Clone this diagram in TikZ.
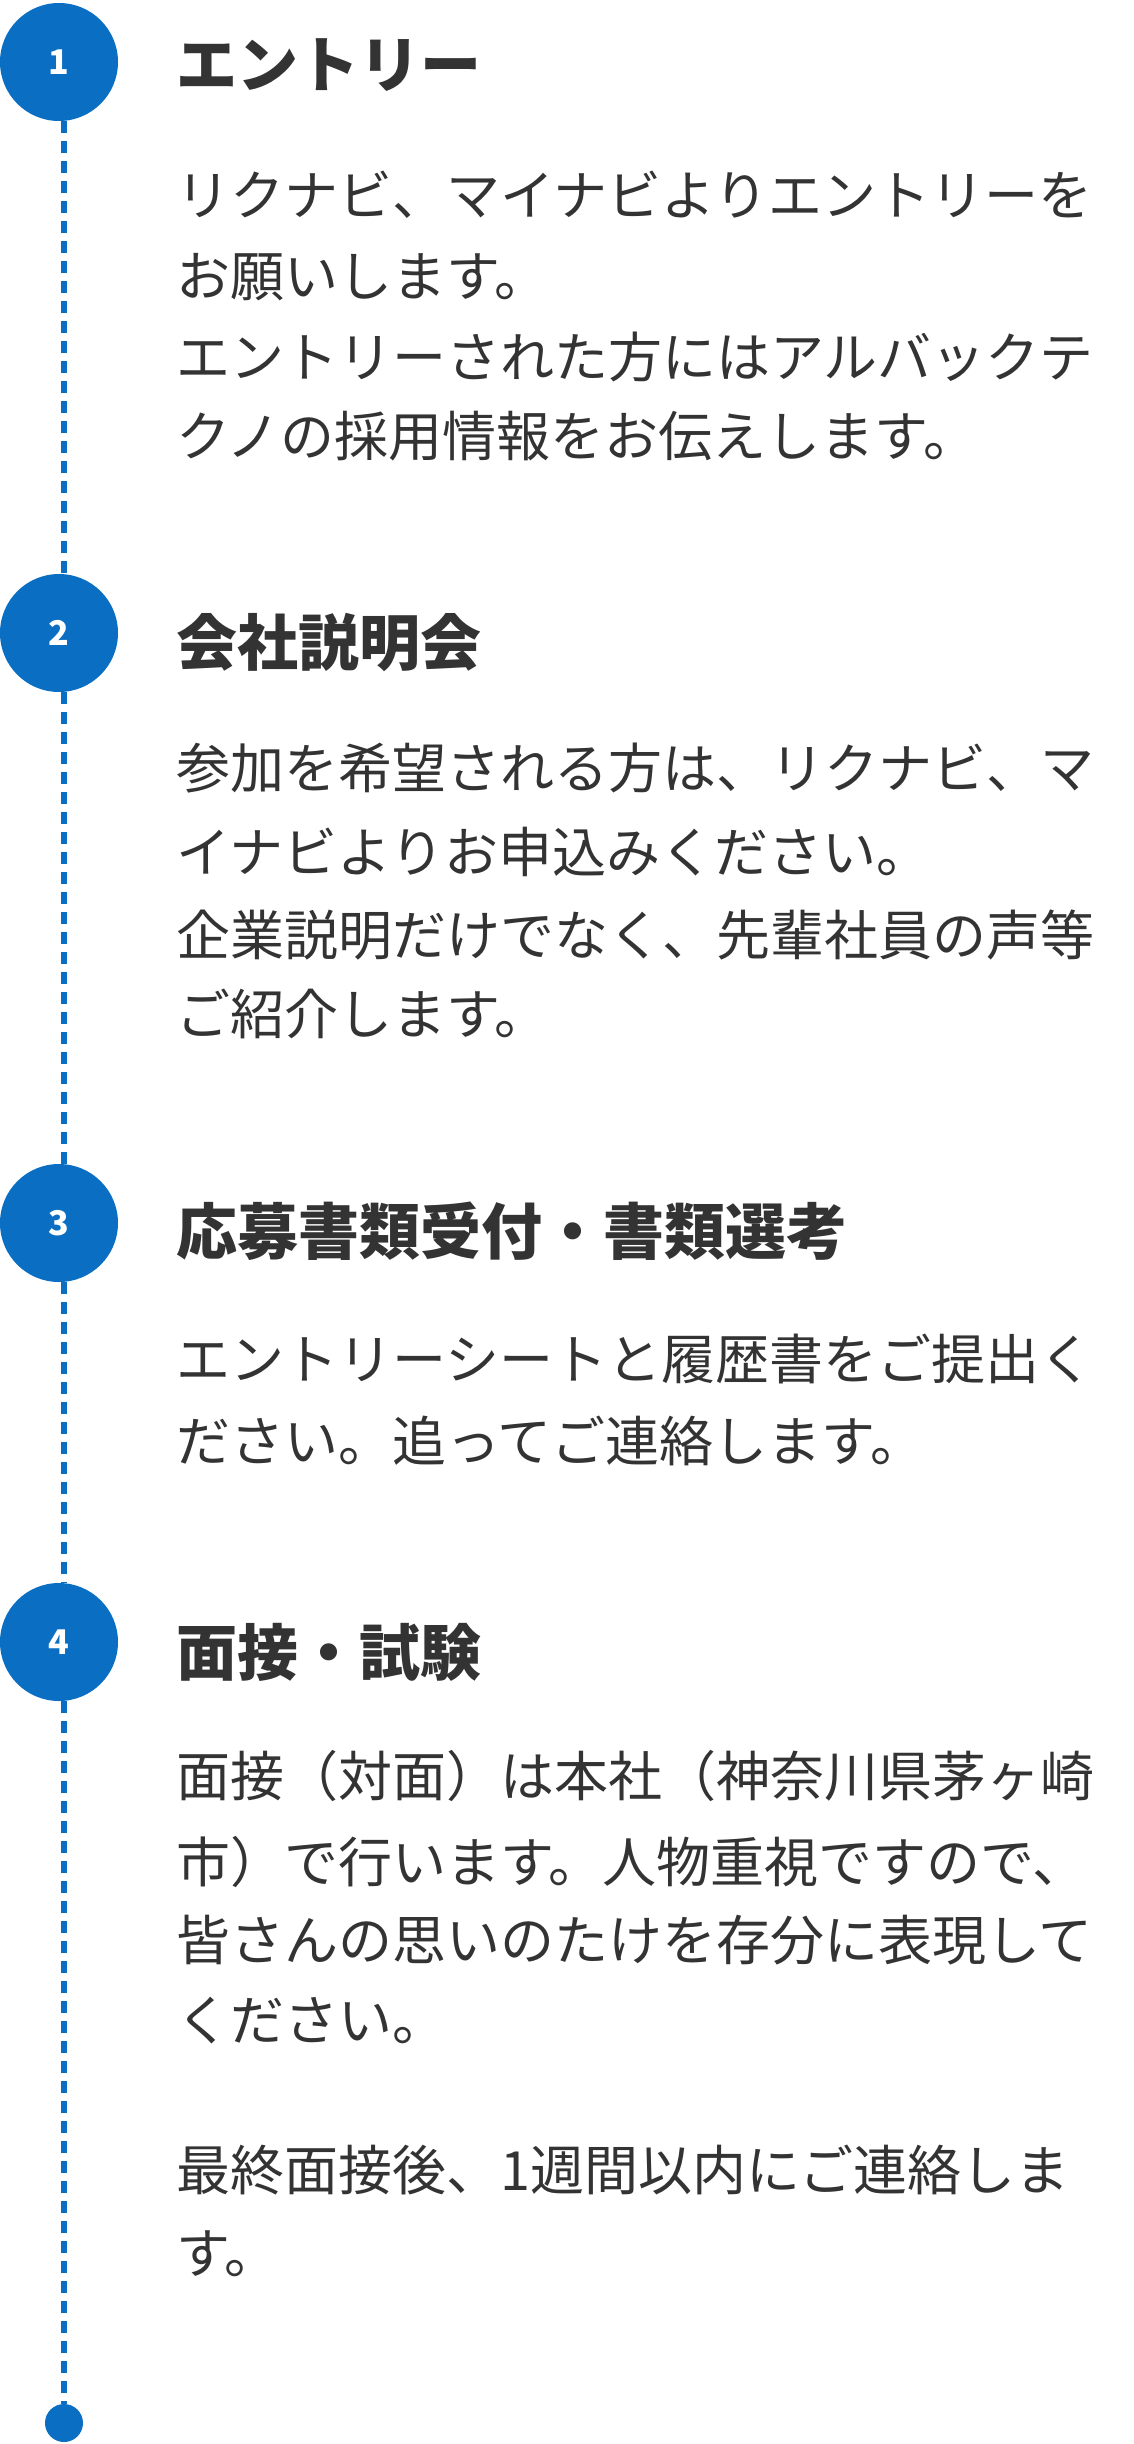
\documentclass[tikz,border=0pt]{standalone}
\usepackage{fontspec}
\setmainfont{Noto Sans CJK JP}
\definecolor{blu}{HTML}{0A6FC2}
\definecolor{txt}{HTML}{333333}
\begin{document}
\begin{tikzpicture}[x=1pt,y=-1pt,
 num/.style={circle,fill=blu,minimum size=118pt,inner sep=0pt,text=white,font=\fontsize{34}{34}\selectfont\bfseries},
 ttl/.style={anchor=west,inner sep=0pt,text=txt,font=\fontsize{61}{61}\selectfont\bfseries},
 bdy/.style={anchor=west,inner sep=0pt,text=txt,font=\fontsize{54}{54}\selectfont}]
\useasboundingbox (0,0) rectangle (1134,2444);
\node[circle,fill=blu,minimum size=38pt,inner sep=0pt] (e) at (64,2423) {};
\node[num] (n1) at (59,62) {1};
\node[num] (n2) at (59,633) {2};
\node[num] (n3) at (59,1223) {3};
\node[num] (n4) at (59,1642) {4};
\begin{scope}[on background layer/.style={}]
\end{scope}
\draw[blu,line width=6pt,dash pattern=on 12pt off 8pt] (64,121) -- (64,574);
\draw[blu,line width=6pt,dash pattern=on 12pt off 8pt] (64,692) -- (64,1164);
\draw[blu,line width=6pt,dash pattern=on 12pt off 8pt] (64,1282) -- (64,1583);
\draw[blu,line width=6pt,dash pattern=on 12pt off 8pt] (64,1701) -- (e);
\node[ttl] (t1) at (176,65) {エントリー};
\node[bdy] (b11) at (176,195) {リクナビ、マイナビよりエントリーを};
\node[bdy] (b12) at (176,277) {お願いします。};
\node[bdy] (b13) at (176,357) {エントリーされた方にはアルバックテ};
\node[bdy] (b14) at (176,436) {クノの採用情報をお伝えします。};
\node[ttl] (t2) at (176,642) {会社説明会};
\node[bdy] (b21) at (176,768) {参加を希望される方は、リクナビ、マ};
\node[bdy] (b22) at (176,852) {イナビよりお申込みください。};
\node[bdy] (b23) at (176,935) {企業説明だけでなく、先輩社員の声等};
\node[bdy] (b24) at (176,1014) {ご紹介します。};
\node[ttl] (t3) at (176,1231) {応募書類受付・書類選考};
\node[bdy] (b31) at (176,1359) {エントリーシートと履歴書をご提出く};
\node[bdy] (b32) at (176,1441) {ださい。追ってご連絡します。};
\node[ttl] (t4) at (176,1652) {面接・試験};
\node[bdy] (b41) at (176,1776) {面接（対面）は本社（神奈川県茅ヶ崎};
\node[bdy] (b42) at (176,1862) {市）で行います。人物重視ですので、};
\node[bdy] (b43) at (176,1940) {皆さんの思いのたけを存分に表現して};
\node[bdy] (b44) at (176,2021) {ください。};
\node[bdy] (b45) at (176,2170) {最終面接後、1週間以内にご連絡しま};
\node[bdy] (b46) at (176,2254) {す。};
\end{tikzpicture}
\end{document}
